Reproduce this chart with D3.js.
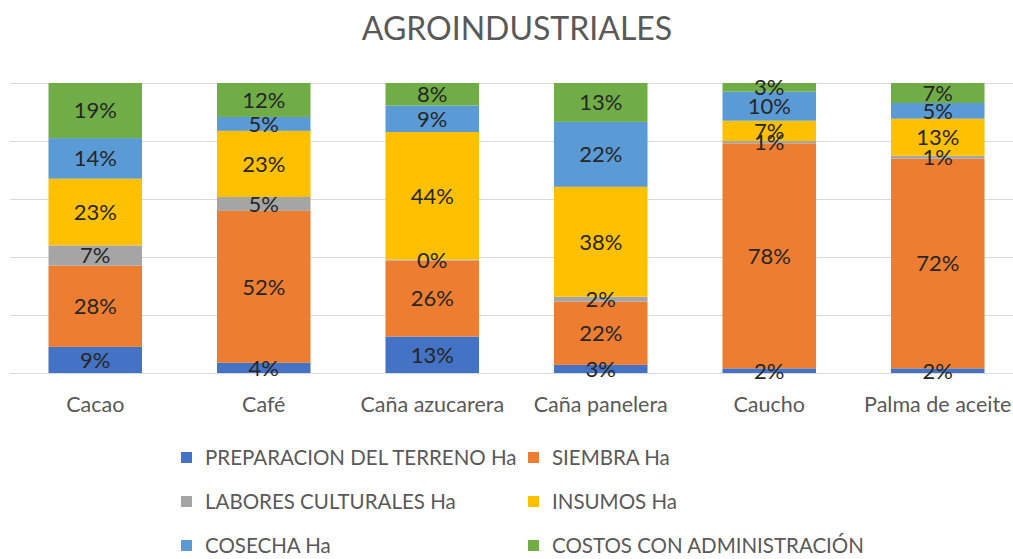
<!DOCTYPE html>
<html>
<head>
<meta charset="utf-8">
<script src="https://cdn.jsdelivr.net/npm/d3@7"></script>
<style>
  body { margin: 0; background: #fff; }
  svg { display: block; font-family: Lato, "Open Sans", sans-serif; }
</style>
</head>
<body>
<div id="chart"></div>
<script>
'use strict';

// categories and series (shares, in %)
var cultivos = ['Cacao', 'Café', 'Caña azucarera', 'Caña panelera', 'Caucho', 'Palma de aceite'];
var series = ['PREPARACION DEL TERRENO Ha', 'SIEMBRA Ha', 'LABORES CULTURALES Ha',
              'INSUMOS Ha', 'COSECHA Ha', 'COSTOS CON ADMINISTRACIÓN'];
var colores = ['#4472c4', '#ed7d31', '#a5a5a5', '#ffc000', '#5b9bd5', '#70ad47'];

var preparacion = [9.0, 3.5, 12.6, 2.8, 1.6, 1.6];
var siembra     = [28.0, 52.4, 26.2, 21.8, 77.6, 72.3];
var labores     = [7.0, 4.8, 0.3, 1.7, 0.8, 1.0];
var insumos     = [23.0, 22.8, 44.0, 37.9, 7.0, 12.8];
var cosecha     = [14.0, 4.8, 9.1, 22.4, 10.0, 5.4];
var costos      = [19.0, 11.7, 7.8, 13.4, 3.0, 6.9];

var yTicks = [0, 0.2, 0.4, 0.6, 0.8, 1];

var chart = {};
chart.width = 1013;
chart.height = 559;
chart.plot = {top: 83, bottom: 373, left: 11, right: 1022};

var valores = [preparacion, siembra, labores, insumos, cosecha, costos];
var tabla = cultivos.map(function (c, i) {
    var fila = {cultivo: c};
    series.forEach(function (s, j) { fila[s] = valores[j][i]; });
    return fila;
});

var svg = d3.select('#chart').append('svg')
    .attr('width', chart.width)
    .attr('height', chart.height);

var x = d3.scaleBand().domain(cultivos)
    .range([chart.plot.left, chart.plot.right])
    .paddingInner(0.445).paddingOuter(0.2225);
var y = d3.scaleLinear().domain([0, 1]).range([chart.plot.bottom, chart.plot.top]);

// title
svg.append('text')
    .attr('x', 517).attr('y', 40)
    .attr('text-anchor', 'middle')
    .attr('font-size', 32)
    .attr('fill', '#595959')
    .text('AGROINDUSTRIALES');

// gridlines
svg.append('g').selectAll('line').data(yTicks).enter().append('line')
    .attr('x1', 10).attr('x2', chart.width)
    .attr('y1', function (d) { return Math.round(y(d)) + 0.5; })
    .attr('y2', function (d) { return Math.round(y(d)) + 0.5; })
    .attr('stroke', '#d9d9d9').attr('stroke-width', 1.2);

var stack = d3.stack().keys(series).offset(d3.stackOffsetExpand);
var capas = stack(tabla);

var g = svg.selectAll('g.capa').data(capas).enter().append('g')
    .attr('class', 'capa')
    .attr('fill', function (d, i) { return colores[i]; });

g.selectAll('rect').data(function (d) { return d; }).enter().append('rect')
    .attr('x', function (d) { return x(d.data.cultivo); })
    .attr('width', x.bandwidth())
    .attr('y', function (d) { return y(d[1]); })
    .attr('height', function (d) { return y(d[0]) - y(d[1]); });

// data labels
svg.selectAll('g.etiquetas').data(capas).enter().append('g')
    .attr('class', 'etiquetas')
    .selectAll('text').data(function (d) { return d; }).enter().append('text')
    .attr('x', function (d) { return x(d.data.cultivo) + x.bandwidth() / 2; })
    .attr('y', function (d) { return (y(d[0]) + y(d[1])) / 2; })
    .attr('dy', '0.36em')
    .attr('text-anchor', 'middle')
    .attr('font-size', 22)
    .attr('fill', '#262626')
    .text(function (d) { return Math.round((d[1] - d[0]) * 100) + '%'; });

// category axis
var xAxis = d3.axisBottom(x).tickSize(0).tickPadding(0);
var ejeX = svg.append('g')
    .attr('transform', 'translate(0,' + chart.plot.bottom + ')')
    .call(xAxis);
ejeX.select('.domain').remove();
ejeX.selectAll('text')
    .attr('y', 39)
    .attr('dy', 0)
    .attr('font-family', 'Lato, sans-serif')
    .attr('font-size', 21.5)
    .attr('fill', '#595959');

// legend
var leyenda = svg.append('g').selectAll('g').data(series).enter().append('g')
    .attr('transform', function (d, i) {
        var col = i % 2, fila = Math.floor(i / 2);
        return 'translate(' + (col === 0 ? 181 : 528) + ',' + (458 + fila * 44) + ')';
    });
leyenda.append('rect')
    .attr('x', 0).attr('y', -6)
    .attr('width', 11).attr('height', 11)
    .attr('fill', function (d, i) { return colores[i]; });
leyenda.append('text')
    .attr('x', 24).attr('y', 0)
    .attr('dy', '0.35em')
    .attr('font-size', 20.5)
    .attr('fill', '#595959')
    .text(function (d) { return d; });
</script>
</body>
</html>
